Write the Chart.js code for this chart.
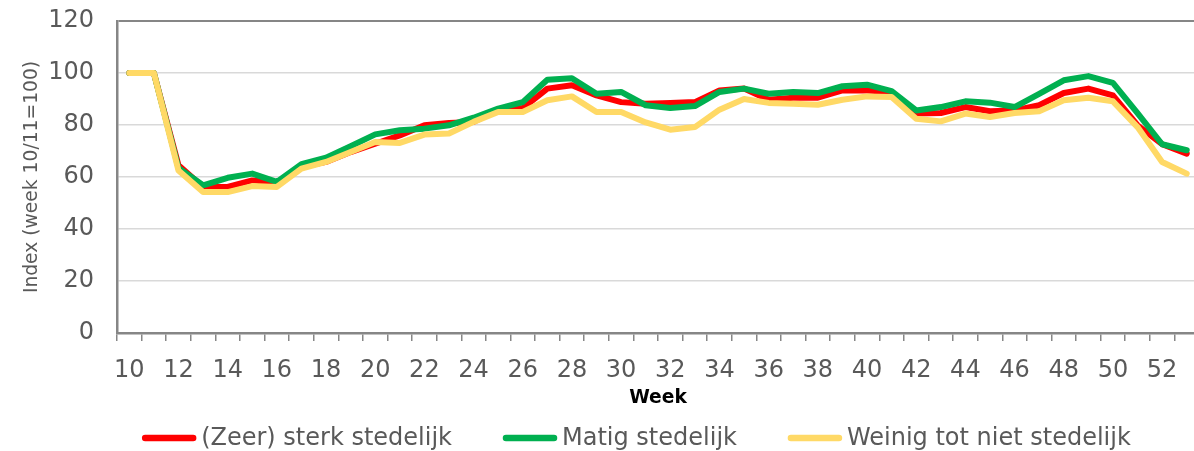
<!DOCTYPE html>
<html>
<head>
<meta charset="utf-8">
<script src="https://cdn.jsdelivr.net/npm/chart.js@4.4.0/dist/chart.umd.min.js"></script>
<style>
  html, body { margin: 0; padding: 0; background: #ffffff; overflow: hidden; }
  #wrap { position: absolute; left: 0; top: 0; width: 1200px; height: 451px; }
</style>
</head>
<body>
<div id="wrap"><canvas id="c" width="1200" height="451"></canvas></div>
<script>
// ---- data ----
const weeks = ['10','11','12','13','14','15','16','17','18','19','20','21','22','23','24','25','26','27','28','29','30','31',
               '32','33','34','35','36','37','38','39','40','41','42','43','44','45','46','47','48','49','50','51','52','53'];

const sterkStedelijk = [100, 100, 64.5, 56.2, 56.2, 58.7, 57.7, 63.8, 65.8, 69.6, 72.8, 76.0, 79.9, 80.8, 81.2, 85.9,
                        86.5, 94.0, 95.3, 91.4, 88.8, 88.2, 88.5, 88.8, 93.3, 94.0, 89.7, 90.5, 90.5, 93.3, 93.3, 92.7,
                        84.4, 84.6, 86.9, 85.3, 85.6, 87.6, 92.3, 94.0, 91.4, 79.9, 72.6, 69.0];

const matigStedelijk = [100, 100, 63.5, 56.8, 59.7, 61.3, 58.1, 64.9, 67.4, 71.8, 76.4, 78.0, 78.6, 79.9, 82.8, 86.3,
                        88.8, 97.4, 98.0, 92.0, 92.7, 87.6, 86.5, 87.3, 92.7, 94.0, 92.0, 92.7, 92.3, 94.9, 95.5, 93.0,
                        85.6, 86.9, 89.1, 88.6, 86.9, 92.0, 97.2, 98.8, 96.2, 84.6, 72.6, 70.3];

const weinigStedelijk = [100, 100, 62.5, 54.2, 54.2, 56.5, 56.2, 63.2, 65.8, 69.6, 73.5, 73.1, 76.3, 76.7, 81.2, 85.0,
                         85.0, 89.5, 91.0, 85.0, 85.0, 81.0, 78.2, 79.2, 85.9, 90.0, 88.5, 88.2, 87.8, 89.7, 91.0, 90.8,
                         82.4, 81.4, 84.4, 83.1, 84.6, 85.3, 89.5, 90.5, 89.1, 79.2, 65.8, 61.3];

const seriesNames = ['(Zeer) sterk stedelijk', 'Matig stedelijk', 'Weinig tot niet stedelijk'];
const yTickValues = [0, 20, 40, 60, 80, 100, 120];
const yTitle = 'Index (week 10/11=100)';
const xTitle = 'Week';

// ---- styling ----
const FONT = '"DejaVu Sans", Verdana, sans-serif';
const TEXT = '#595959';
const AXIS = '#868686';
const GRID = '#D9D9D9';
const COLORS = ['#FF0000', '#00B050', '#FFD966'];

Chart.defaults.font.family = FONT;

const legendPlugin = {
  id: 'bottomLegend',
  afterDraw(chart) {
    const ctx = chart.ctx;
    ctx.save();
    ctx.font = '24px ' + FONT;
    ctx.textBaseline = 'middle';
    ctx.textAlign = 'left';
    const markW = 54, gapText = 5, gapItem = 51, y = 438;
    const items = chart.data.datasets
      .slice()
      .sort((a, b) => a.legendIndex - b.legendIndex)
      .map(d => ({ text: d.label, color: d.borderColor, w: ctx.measureText(d.label).width }));
    let total = 0;
    items.forEach((it, i) => { total += markW + gapText + it.w + (i < items.length - 1 ? gapItem : 0); });
    let x = 636.5 - total / 2;
    items.forEach(it => {
      ctx.strokeStyle = it.color;
      ctx.lineWidth = 6.5;
      ctx.lineCap = 'round';
      ctx.beginPath();
      ctx.moveTo(x + 3, y);
      ctx.lineTo(x + markW - 3, y);
      ctx.stroke();
      ctx.fillStyle = TEXT;
      ctx.fillText(it.text, x + markW + gapText, y + 1);
      x += markW + gapText + it.w + gapItem;
    });
    ctx.restore();
  }
};

const mkDataset = (i, data, order) => ({
  label: seriesNames[i],
  data: data,
  borderColor: COLORS[i],
  backgroundColor: COLORS[i],
  borderWidth: 6,
  pointRadius: 0,
  pointHoverRadius: 0,
  tension: 0,
  fill: false,
  borderCapStyle: 'round',
  borderJoinStyle: 'round',
  order: order,
  legendIndex: i
});

new Chart(document.getElementById('c').getContext('2d'), {
  type: 'line',
  data: {
    labels: weeks,
    datasets: [
      mkDataset(0, sterkStedelijk, 3),
      mkDataset(1, matigStedelijk, 2),
      mkDataset(2, weinigStedelijk, 1)
    ]
  },
  plugins: [legendPlugin],
  options: {
    responsive: false,
    animation: false,
    devicePixelRatio: 1,
    layout: { padding: { top: 21, right: 1, bottom: 0, left: 0 } },
    plugins: { legend: { display: false }, tooltip: { enabled: false } },
    scales: {
      x: {
        type: 'category',
        offset: true,
        grid: {
          offset: true,
          drawOnChartArea: false,
          drawTicks: true,
          tickLength: 8,
          tickColor: AXIS,
          lineWidth: 1.5
        },
        border: { display: true, color: AXIS, width: 2.5 },
        ticks: {
          autoSkip: false,
          maxRotation: 0,
          minRotation: 0,
          padding: 15,
          color: TEXT,
          font: { size: 24 },
          callback: function (value, index) { return index % 2 === 0 ? weeks[index] : ''; }
        },
        title: {
          display: true,
          text: xTitle,
          color: '#000000',
          font: { size: 18.7, weight: 'bold' },
          padding: { top: 0, bottom: 41.8 }
        },
        afterFit: (s) => { s.height = 118; s.paddingLeft = 0; s.paddingRight = 0; }
      },
      y: {
        min: 0,
        max: 120,
        afterBuildTicks: (s) => { s.ticks = yTickValues.map(v => ({ value: v })); },
        grid: {
          drawTicks: false,
          color: (c) => (c.tick && c.tick.value === 120 ? AXIS : GRID),
          lineWidth: (c) => (c.tick && c.tick.value === 120 ? 2 : 1.5)
        },
        border: { display: true, color: AXIS, width: 2.5 },
        ticks: {
          padding: 23,
          color: TEXT,
          font: { size: 24 }
        },
        title: {
          display: true,
          text: yTitle,
          color: TEXT,
          font: { size: 18.7 },
          padding: { top: 20.8, bottom: 0 }
        },
        afterFit: (s) => { s.width = 117; s.paddingTop = 0; s.paddingBottom = 0; }
      }
    }
  }
});
</script>
</body>
</html>
